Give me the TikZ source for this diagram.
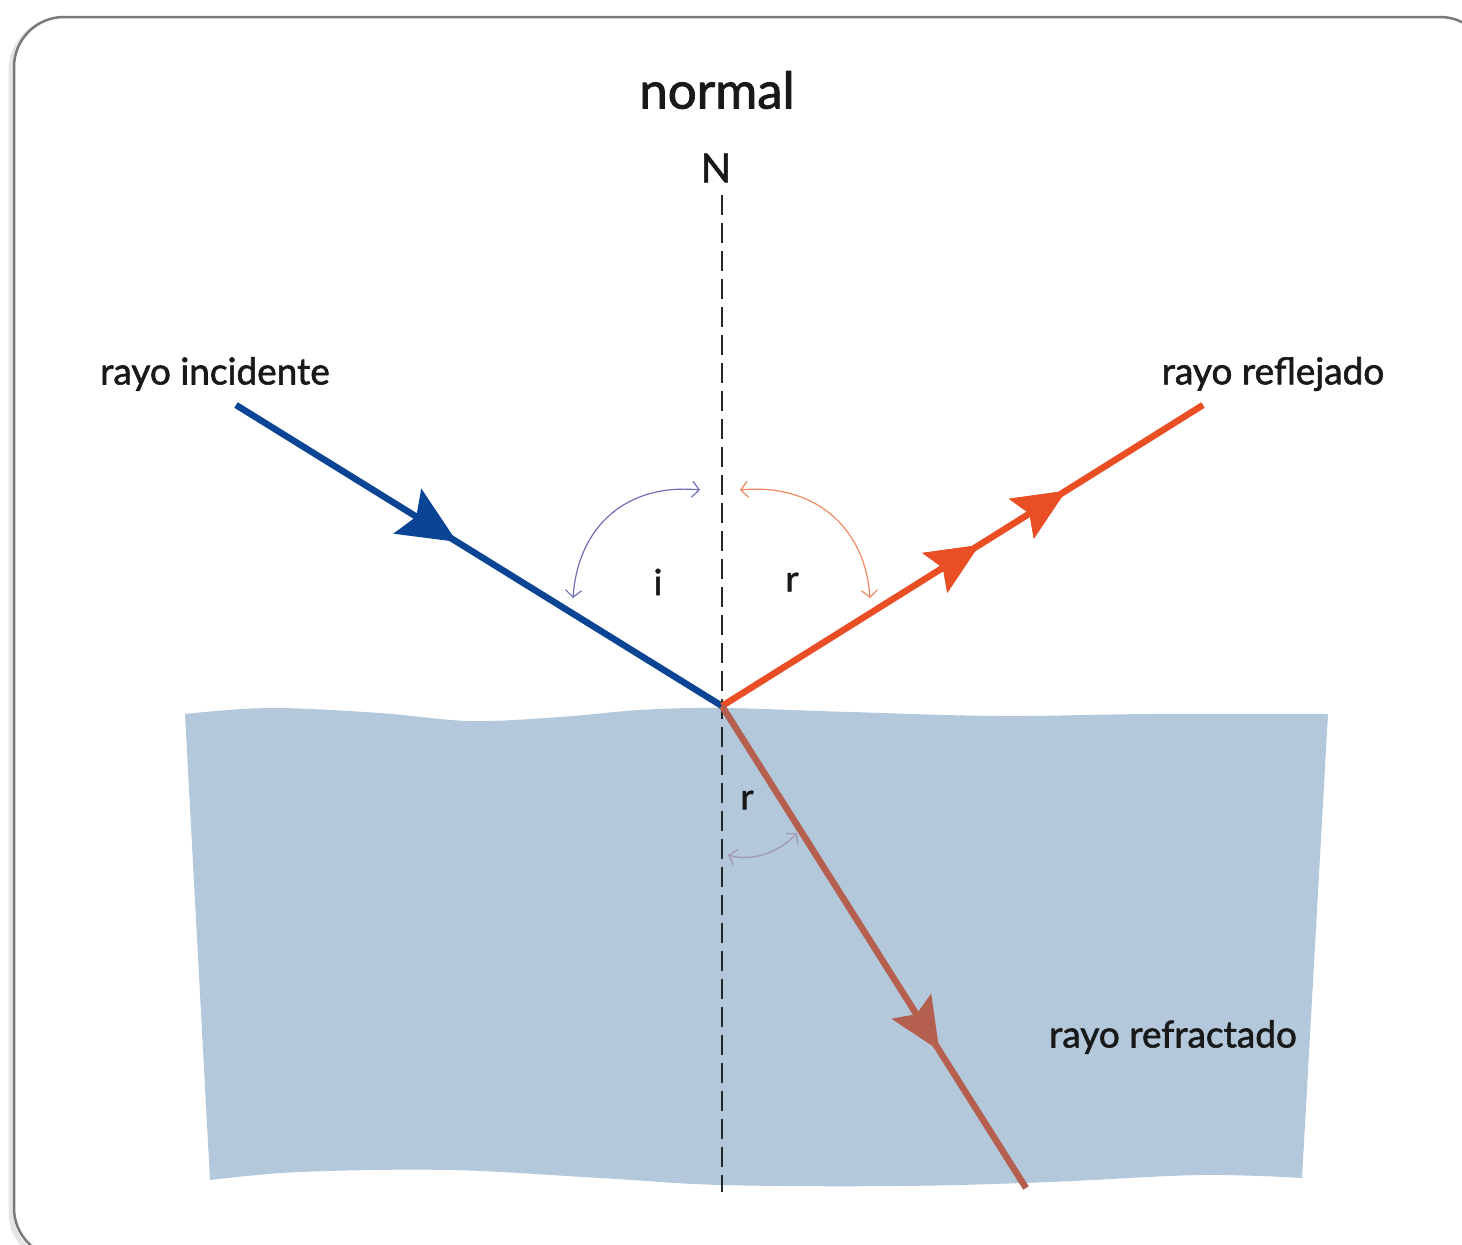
\documentclass[tikz,border=0pt]{standalone}
\usepackage{fontspec}
\setmainfont{Lato}
\newfontfamily\lblfont{Lato}[FakeBold=1.6]
\usetikzlibrary{arrows.meta,decorations.markings}
\definecolor{water}{HTML}{B3C9DB}
\definecolor{incray}{HTML}{0A4494}
\definecolor{refray}{HTML}{E94E24}
\definecolor{fracray}{HTML}{B5604F}
\definecolor{arcI}{HTML}{6F6FB7}
\definecolor{arcR}{HTML}{F08A62}
\definecolor{arcF}{HTML}{A49AB8}
\definecolor{frame}{HTML}{7A7A7A}
\begin{document}
\begin{tikzpicture}[x=1pt,y=-1pt,
  lbl/.style={inner sep=0pt,text=black!90,font=\lblfont\fontsize{37}{42}\selectfont},
  anglbl/.style={inner sep=0pt,text=black!90,font=\lblfont\fontsize{36}{42}\selectfont},
  raybase/.style={line width=6.5pt},
  headI/.style={decoration={markings,mark=at position #1 with {\arrow{Stealth[length=58pt,width=52pt,inset=10pt]}}},postaction={decorate}},
  headR/.style={decoration={markings,mark=at position #1 with {\arrow{Stealth[length=52pt,width=46pt,inset=9pt]}}},postaction={decorate}},
  anglearc/.style={line width=1.2pt,{Straight Barb[length=7pt,width=16pt]}-{Straight Barb[length=7pt,width=16pt]}},
  normalline/.style={line width=2.8pt,black!85,dash pattern=on 20pt off 8pt}
]
\useasboundingbox (0,0) rectangle (1462,1245);
\clip (0,0) rectangle (1462,1245);
% frame with soft shadow
\draw[line width=5pt,black!10,rounded corners=50] (11,20) rectangle (1488,1262);
\draw[line width=2.5pt,frame,fill=white,rounded corners=50] (14,17) rectangle (1490,1258);
% water
\fill[water] plot[smooth,tension=0.6] coordinates {(185,714) (270,708) (380,713) (470,721) (560,717) (640,710) (722,708) (850,712) (1000,716) (1150,714) (1328,714)}
  -- (1302,1178)
  -- plot[smooth,tension=0.6] coordinates {(1302,1178) (1200,1175) (1050,1182) (900,1186) (722,1185) (600,1178) (450,1170) (300,1172) (210,1180)}
  -- cycle;
% coordinates
\coordinate (O) at (722,706);
\coordinate (A) at (236,405);
\coordinate (R) at (1203,405);
\coordinate (T) at (1026,1188);
\coordinate (Ntop) at (722,195);
\coordinate (Nbot) at (722,1192);
% normal
\draw[normalline] (Ntop) -- (Nbot);
% rays
\draw[raybase,incray,headI=0.455] (A) -- (O);
\draw[raybase,refray,headR=0.535,headR=0.715] (O) -- (R);
\draw[raybase,fracray,headR=0.715] (O) -- (T);
% angle arcs
\coordinate (i1) at (573,598); \coordinate (i2) at (700,490);
\coordinate (r1) at (740,490); \coordinate (r2) at (870,598);
\coordinate (f1) at (728,855); \coordinate (f2) at (797,833);
\draw[anglearc,arcI] (i1) .. controls (578,525) and (628,483) .. (i2);
\draw[anglearc,arcR] (r1) .. controls (812,483) and (865,525) .. (r2);
\draw[anglearc,arcF,line width=1.4pt] (f1) .. controls (752,862) and (780,852) .. (f2);
% labels
\node[lbl,font=\lblfont\fontsize{51}{56}\selectfont] (normal) at (717,90) {normal};
\node[lbl,font=\lblfont\fontsize{40}{46}\selectfont] (N) at (716,168) {N};
\node[lbl] (inc) at (215,374) {rayo incidente};
\node[lbl] (refl) at (1273,374) {rayo reflejado};
\node[lbl] (refr) at (1173,1037) {rayo refractado};
\node[anglbl] (li) at (658,582) {i};
\node[anglbl] (lr) at (792,582) {r};
\node[anglbl] (lf) at (747,800) {r};
\end{tikzpicture}
\end{document}
